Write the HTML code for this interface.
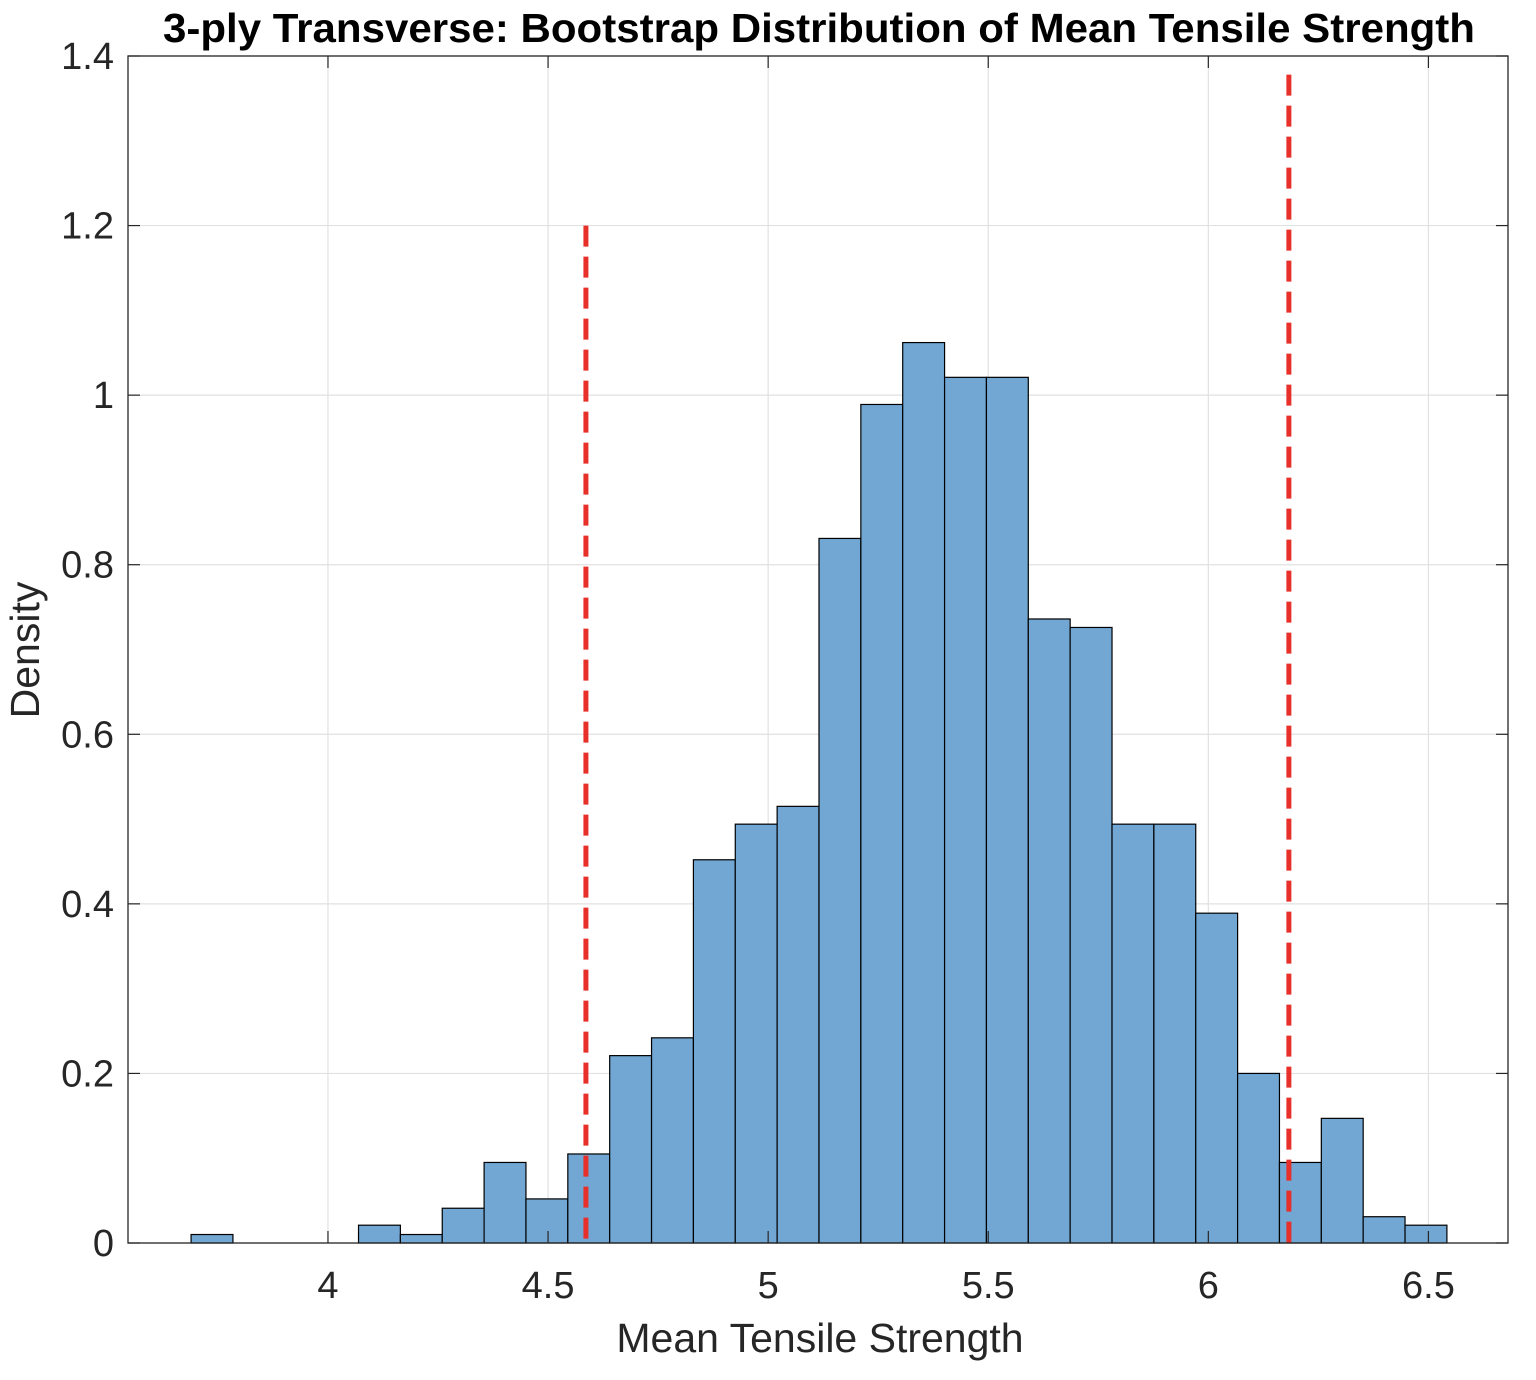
<!DOCTYPE html>
<html><head><meta charset="utf-8"><style>
html,body{margin:0;padding:0;background:#fff;}
svg{display:block;font-family:"Liberation Sans",Arial,sans-serif;}
</style></head><body>
<svg id="chart" width="1536" height="1380">
<text x="819" y="42" text-anchor="middle" font-size="41" font-weight="bold" fill="#000" textLength="1312" lengthAdjust="spacingAndGlyphs">3-ply Transverse: Bootstrap Distribution of Mean Tensile Strength</text>
<g id="grid"></g>
<g id="bars"></g>
<g id="lines"></g>
<g id="axes"></g>
<text x="820" y="1352" text-anchor="middle" font-size="41" fill="#262626">Mean Tensile Strength</text>
<text transform="translate(39,650) rotate(-90)" text-anchor="middle" font-size="41" fill="#262626">Density</text>
</svg>
<script>
const binStart = 3.689;
const binWidth = 0.0951;
const densities = [0.01,0,0,0,0.021,0.01,0.041,0.095,0.052,0.105,0.221,0.242,0.452,0.494,0.515,0.831,0.989,1.062,1.021,1.021,0.736,0.726,0.494,0.494,0.389,0.200,0.095,0.147,0.031,0.021];
const xTicks = [4,4.5,5,5.5,6,6.5];
const xTickLabels = ["4","4.5","5","5.5","6","6.5"];
const yTicks = [0,0.2,0.4,0.6,0.8,1,1.2,1.4];
const yTickLabels = ["0","0.2","0.4","0.6","0.8","1","1.2","1.4"];
const ciValues = [4.586, 6.183];
const ciTops = [1.2, 1.378];

const L=128,R=1508,T=56,B=1243;
const xMin=3.5457,xMax=6.6808,yMin=0,yMax=1.4;
const X=v=>L+(v-xMin)/(xMax-xMin)*(R-L);
const Y=v=>B-(v-yMin)/(yMax-yMin)*(B-T);
const NS="http://www.w3.org/2000/svg";
function mk(tag,attrs,parent){const e=document.createElementNS(NS,tag);for(const k in attrs)e.setAttribute(k,attrs[k]);parent.appendChild(e);return e;}
const grid=document.getElementById('grid'),bars=document.getElementById('bars'),lines=document.getElementById('lines'),axes=document.getElementById('axes');
xTicks.forEach((t,i)=>{
  const g=mk('line',{x1:X(t),x2:X(t),y1:T,y2:B,stroke:'#e1e1e1','stroke-width':1.2},grid);
  
  
  const tk=mk('text',{x:X(t),y:B+55,'text-anchor':'middle','font-size':38,fill:'#262626'},axes);
  tk.textContent=xTickLabels[i];
  
  
  mk('line',{x1:X(t),x2:X(t),y1:B,y2:B-12,stroke:'#262626','stroke-width':1.2},axes);
  mk('line',{x1:X(t),x2:X(t),y1:T,y2:T+12,stroke:'#262626','stroke-width':1.2},axes);
});
yTicks.forEach((t,i)=>{
  const g=mk('line',{x1:L,x2:R,y1:Y(t),y2:Y(t),stroke:'#e1e1e1','stroke-width':1.2},grid);
  
  
  const tk=mk('text',{x:L-14,y:Y(t)+13,'text-anchor':'end','font-size':38,fill:'#262626'},axes);
  tk.textContent=yTickLabels[i];
  
  
  mk('line',{x1:L,x2:L+12,y1:Y(t),y2:Y(t),stroke:'#262626','stroke-width':1.2},axes);
  mk('line',{x1:R,x2:R-12,y1:Y(t),y2:Y(t),stroke:'#262626','stroke-width':1.2},axes);
});
densities.forEach((d,i)=>{
  if(d<=0)return;
  const x0=X(binStart+i*binWidth),x1=X(binStart+(i+1)*binWidth);
  const r=mk('rect',{x:x0,y:Y(d),width:x1-x0,height:B-Y(d),fill:'#72a7d3',stroke:'#000','stroke-width':1.2},bars);
  
  
});
ciValues.forEach((v,i)=>{
  const l=mk('line',{x1:X(v),x2:X(v),y1:Y(ciTops[i]),y2:B,stroke:'#e8302a','stroke-width':5,'stroke-dasharray':'21,10'},lines);
  
  
});
const box=mk('rect',{x:L,y:T,width:R-L,height:B-T,fill:'none',stroke:'#262626','stroke-width':1.3},axes);


</script>
</body></html>
